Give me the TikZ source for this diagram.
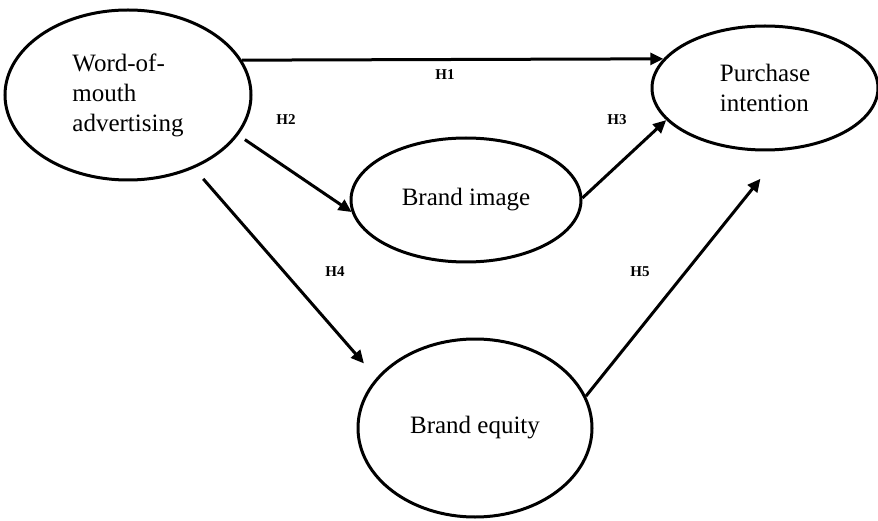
\documentclass[tikz,border=0pt]{standalone}
\usepackage{fontspec}
\setmainfont{Liberation Serif}
\usetikzlibrary{shapes.geometric,arrows.meta}

\begin{document}
\begin{tikzpicture}[x=1pt,y=-1pt,
    construct/.style={draw,ellipse,line width=3pt,inner sep=0pt,
      font=\fontsize{25}{30}\selectfont},
    hyp/.style={font=\fontsize{15}{18}\selectfont\bfseries}]
  \useasboundingbox (0,0) rectangle (878,521);
  \draw
    (128,95) node[construct,minimum width=246,minimum height=170,align=left] (wom){Word-of-\\mouth\\advertising}
    (466,200) node[construct,minimum width=230,minimum height=124] (img){Brand image}
    (475,428) node[construct,minimum width=234,minimum height=178] (eq){Brand equity}
    (765,88) node[construct,minimum width=226,minimum height=124,align=left] (pi){Purchase\\intention};
  \draw
    (445,75) node[hyp] (h1){H1}
    (286,120) node[hyp] (h2){H2}
    (617,120) node[hyp] (h3){H3}
    (335,272) node[hyp] (h4){H4}
    (640,272) node[hyp] (h5){H5};
  \begin{scope}[-{Triangle[length=13pt,width=12pt]},line width=3pt]
    \draw (wom.17) to (pi.164);
    \draw[shorten <=8pt] (wom.-20) to (img.186);
    \draw (img.1.5) to (pi.-162);
    \draw[shorten <=14pt,shorten >=19pt] (wom.-48) to (eq.153);
    \draw[shorten >=36pt] (eq.16) to (pi.-74);
  \end{scope}
\end{tikzpicture}
\end{document}
